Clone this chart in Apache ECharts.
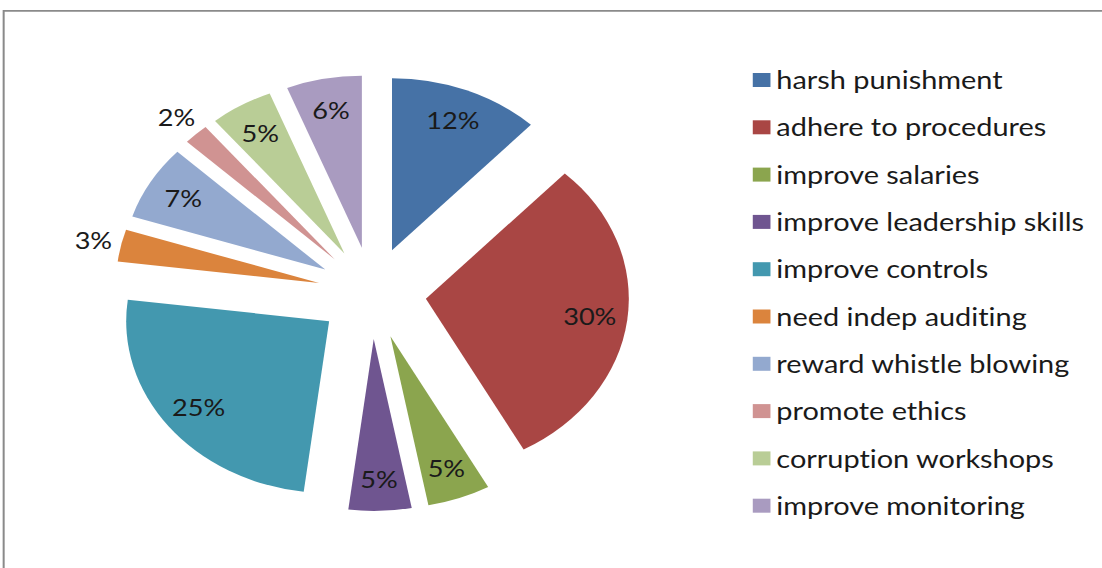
<!DOCTYPE html>
<html>
<head>
<meta charset="utf-8">
<script src="https://cdn.jsdelivr.net/npm/echarts@6/dist/echarts.min.js"></script>
<style>
  html, body { margin: 0; padding: 0; background: #fff; overflow: hidden; }
  #wrap { width: 1102px; height: 568px; overflow: hidden; position: relative; }
  /* the chart is laid out narrow and stretched horizontally to the full width */
  #chart {
    width: 934px; height: 568px;
    transform: scaleX(1.1799); transform-origin: 0 0;
    font-variant-ligatures: none;
  }
</style>
</head>
<body>
<div id="wrap"><div id="chart"></div></div>
<script>
// Survey answers: measures proposed against corruption (share of respondents, %)
const categories = [
  'harsh punishment',
  'adhere to procedures',
  'improve salaries',
  'improve leadership skills',
  'improve controls',
  'need indep auditing',
  'reward whistle blowing',
  'promote ethics',
  'corruption workshops',
  'improve monitoring'
];
const shares = [12, 30, 5, 5, 25, 3, 7, 2, 5, 6];
const colors = [
  '#4672A6', '#A94644', '#8BA54E', '#6F5590', '#4398AF',
  '#DB843D', '#93A9CF', '#D09392', '#B9CD96', '#A99BC0'
];

const FONT = 'Lato, "Open Sans", sans-serif';
const SMALL_SHARE = 4; // slices below this carry their label outside the pie

const pieBase = {
  type: 'pie',
  center: [315.3, 293],
  startAngle: 90,
  clockwise: true,
  selectedMode: 'multiple',
  selectedOffset: 46,
  animation: false,
  avoidLabelOverlap: false,
  emphasis: { disabled: true },
  labelLine: { show: false }
};

// visible slices
const slices = Object.assign({}, pieBase, {
  name: 'slices',
  radius: [0, 172],
  label: { show: false },
  itemStyle: { borderWidth: 0 },
  data: categories.map((name, i) => ({
    name: name,
    value: shares[i],
    selected: true,
    itemStyle: { color: colors[i] }
  }))
});

// transparent ring that carries the percentage labels
function labelRing(radius, keep) {
  return Object.assign({}, pieBase, {
    radius: radius,
    silent: true,
    itemStyle: { color: 'rgba(0,0,0,0)', borderWidth: 0 },
    data: categories.map((name, i) => ({
      name: name,
      value: shares[i],
      selected: true,
      label: { show: keep(shares[i]) }
    })),
    label: {
      position: 'inside',
      formatter: '{c}%',
      fontFamily: FONT,
      fontSize: 23,
      color: '#1a1a1a'
    }
  });
}

const chart = echarts.init(document.getElementById('chart'), null, { renderer: 'svg' });
chart.setOption({
  backgroundColor: '#fff',
  color: colors,
  graphic: [{
    type: 'rect',
    silent: true,
    shape: { x: 3.1, y: 10.8, width: 2000, height: 2000 },
    style: { fill: 'none', stroke: '#8a8a8a', lineWidth: 1.7 }
  }],
  legend: {
    orient: 'vertical',
    left: 638,
    top: 67.5,
    padding: 0,
    icon: 'rect',
    itemWidth: 15,
    itemHeight: 14,
    itemGap: 22.3,
    selectedMode: false,
    data: categories,
    textStyle: { fontFamily: FONT, fontSize: 24.5, color: '#1a1a1a', lineHeight: 24 }
  },
  series: [
    slices,
    labelRing([102, 172], v => v >= SMALL_SHARE),
    labelRing([174, 212], v => v < SMALL_SHARE)
  ]
});
</script>
</body>
</html>
